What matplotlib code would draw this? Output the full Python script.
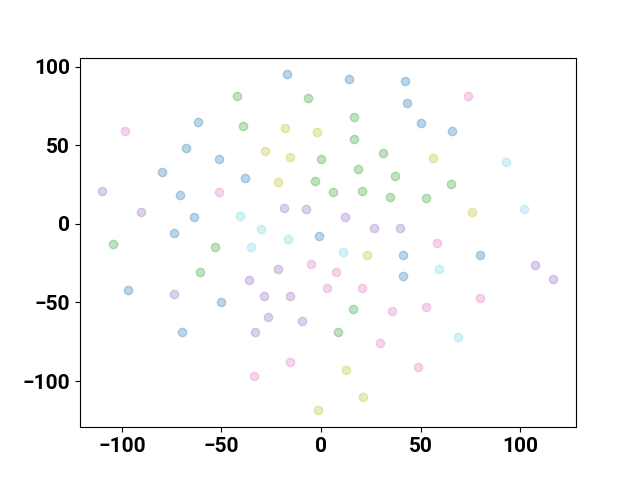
import matplotlib
matplotlib.use('Agg')
import matplotlib.pyplot as plt

plt.rcParams['font.family'] = ['Roboto', 'DejaVu Sans']

# points per group
blue_x = [-17, 14, 42, 43, 50, -62, -68, -51, -80, 66, -38, -71, -64, -74, -1, 41, 80, 41, -97, -50, -70]
blue_y = [95.5, 92.4, 91, 77, 64, 65, 48, 41, 33, 59, 29, 18.5, 4.5, -6, -7.6, -20, -20, -33, -42, -50, -69]

green_x = [-42, -6.5, -39, 16.6, 16.6, 0, 18.6, 31, 37, -3, 6, 20.6, 34.7, 52.8, 65, -104.5, -53, -61, 16, 8.5]
green_y = [81.5, 80, 62, 68, 54, 41, 35, 45, 30.6, 27, 20, 21, 17, 16.5, 25.5, -13, -14.6, -30.5, -54, -69]

pink_x = [-98.5, 74, -51, 58, -5, 7.5, 3, 20.6, 35.7, 52.8, 80, 29.6, -15.6, -33.7, 48.7]
pink_y = [59, 81.5, 20, -12, -25.5, -30.6, -41, -41, -55.4, -53, -47, -76, -88, -97, -91]

purple_x = [-110, -90.5, -18.6, -7.5, 12, 26.6, 39.7, -21.6, -36, -28.6, -15.6, -74, -26.6, -9.5, -33, 107.5, 116.6]
purple_y = [21, 7.6, 10, 9.6, 4.5, -2.5, -2.5, -29, -35.7, -46, -46, -44.6, -59, -62, -69, -26, -35]

olive_x = [-18, -2, -28, -15.6, -21.6, 56, 76, 23, 12.6, 21, -1.5]
olive_y = [61, 58.6, 46.5, 42.7, 26.8, 42, 7.6, -19.7, -93, -110, -118.5]

cyan_x = [93, 102, -40.7, -30, -35, -16.6, 11, 59, 69]
cyan_y = [39.5, 9.6, 5, -3, -15, -9.6, -18, -29, -72]

groups = [
    (blue_x, blue_y, 'tab:blue', 0.3),
    (green_x, green_y, 'tab:green', 0.3),
    (purple_x, purple_y, 'tab:purple', 0.3),
    (pink_x, pink_y, 'tab:pink', 0.3),
    (olive_x, olive_y, 'tab:olive', 0.3),
    (cyan_x, cyan_y, 'tab:cyan', 0.18),
]

fig, ax = plt.subplots(figsize=(6.4, 4.8), dpi=100)
for xs, ys, c, a in groups:
    ax.scatter(xs, ys, color=c, alpha=a)

ax.set_xlim(-121, 128)
ax.set_ylim(-129.3, 105.7)
ax.set_xticks([-100, -50, 0, 50, 100])
ax.set_yticks([-100, -50, 0, 50, 100])
for lab in ax.get_xticklabels() + ax.get_yticklabels():
    lab.set_fontsize(15)
    lab.set_fontweight('bold')

plt.savefig('out.png', dpi=100)
